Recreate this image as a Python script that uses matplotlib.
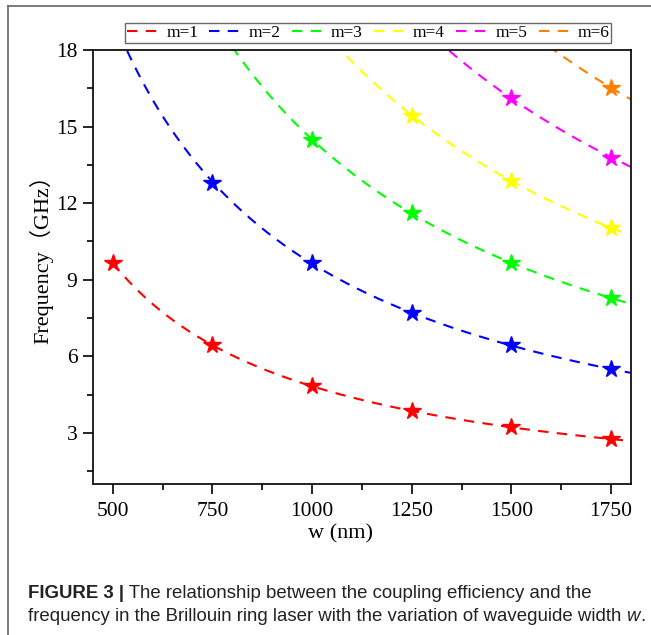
import numpy as np
import matplotlib
matplotlib.use('Agg')
import matplotlib.pyplot as plt
from matplotlib.lines import Line2D

# 读出的数据点（星号）
w_m1 = [500, 750, 1000, 1250, 1500, 1750]
f_m1 = [9.65, 6.45, 4.83, 3.86, 3.22, 2.77]
w_m2 = [750, 1000, 1250, 1500, 1750]
f_m2 = [12.8, 9.66, 7.71, 6.45, 5.52]
w_m3 = [1000, 1250, 1500, 1750]
f_m3 = [14.48, 11.6, 9.66, 8.3]
w_m4 = [1250, 1500, 1750]
f_m4 = [15.43, 12.88, 11.04]
w_m5 = [1500, 1750]
f_m5 = [16.12, 13.78]
w_m6 = [1750]
f_m6 = [16.52]

labels = ['m=1', 'm=2', 'm=3', 'm=4', 'm=5', 'm=6']
colors = ['#ff0000', '#0000ff', '#00ff00', '#ffff00', '#ff00ff', '#ff8000']
series = [(w_m1, f_m1), (w_m2, f_m2), (w_m3, f_m3),
          (w_m4, f_m4), (w_m5, f_m5), (w_m6, f_m6)]

serif = ['Liberation Serif', 'Noto Sans CJK SC']
plt.rcParams['font.family'] = serif

fig = plt.figure(figsize=(6.51, 6.35), dpi=100)
ax = fig.add_axes([0.1425, 0.2378, 0.8268, 0.6835])

for (w, f), c, lab in zip(series, colors, labels):
    w = np.array(w, dtype=float)
    f = np.array(f, dtype=float)
    # 拟合 f = k / w
    k = np.sum(f / w) / np.sum(1.0 / w ** 2)
    start = 500 if lab == 'm=1' else 450
    wc = np.linspace(start, 1800, 400)
    ax.plot(wc, k / wc, color=c, lw=1.5, dashes=(5, 4), label=lab)
    ax.plot(w, f, ls='none', marker='*', ms=13, color=c, mec=c)

ax.set_xlim(450, 1800)
ax.set_ylim(1, 18)
ax.set_xticks([500, 750, 1000, 1250, 1500, 1750])
ax.set_xticks([625, 875, 1125, 1375, 1625], minor=True)
ax.set_yticks([3, 6, 9, 12, 15, 18])
ax.set_yticks([1.5, 4.5, 7.5, 10.5, 13.5, 16.5], minor=True)
ax.tick_params(which='major', direction='out', length=7, width=1.2, labelsize=15.5, pad=4)
ax.tick_params(axis='x', which='major', pad=6)
ax.tick_params(which='minor', direction='out', length=4, width=1.2)
for s in ax.spines.values():
    s.set_linewidth(1.3)
    s.set_color('#111111')

ax.set_xlabel('w (nm)', fontsize=16)
ax.xaxis.set_label_coords(0.461, -0.092)
ax.set_ylabel('Frequency（GHz）', fontsize=16)
ax.yaxis.set_label_coords(-0.074, 0.53)

leg = ax.legend(loc='lower center', bbox_to_anchor=(0.512, 1.016), ncol=6,
                frameon=True, fancybox=False, edgecolor='#444444',
                fontsize=12.5, handlelength=1.8, handletextpad=0.45,
                columnspacing=0.65, borderpad=0.1, borderaxespad=0)
leg.get_frame().set_linewidth(1.0)

# 外框线
fig.add_artist(Line2D([8 / 651, 1], [1 - 6 / 635, 1 - 6 / 635], color='#666666', lw=1.2))
fig.add_artist(Line2D([8 / 651, 8 / 651], [0, 1 - 6 / 635], color='#666666', lw=1.2))

# 图注
sans = ['Liberation Sans', 'DejaVu Sans']
fs = 13.4
t1 = fig.text(28 / 651, 1 - 598 / 635, 'FIGURE 3 |', fontsize=fs, fontweight='bold',
              family=sans, va='baseline', color='#222222')
ax.annotate(' The relationship between the coupling efficiency and the',
            xy=(1, 0), xycoords=t1, va='bottom', fontsize=fs, family=sans,
            color='#222222', annotation_clip=False)
t3 = fig.text(28 / 651, 1 - 621 / 635,
              'frequency in the Brillouin ring laser with the variation of waveguide width ',
              fontsize=fs, family=sans, va='baseline', color='#222222')
t4 = ax.annotate('w', xy=(1, 0), xycoords=t3, va='bottom', fontsize=fs, family=sans,
                 style='italic', color='#222222', annotation_clip=False)
ax.annotate('.', xy=(1, 0), xycoords=t4, va='bottom', fontsize=fs, family=sans,
            color='#222222', annotation_clip=False)

fig.savefig('out.png', dpi=100)
